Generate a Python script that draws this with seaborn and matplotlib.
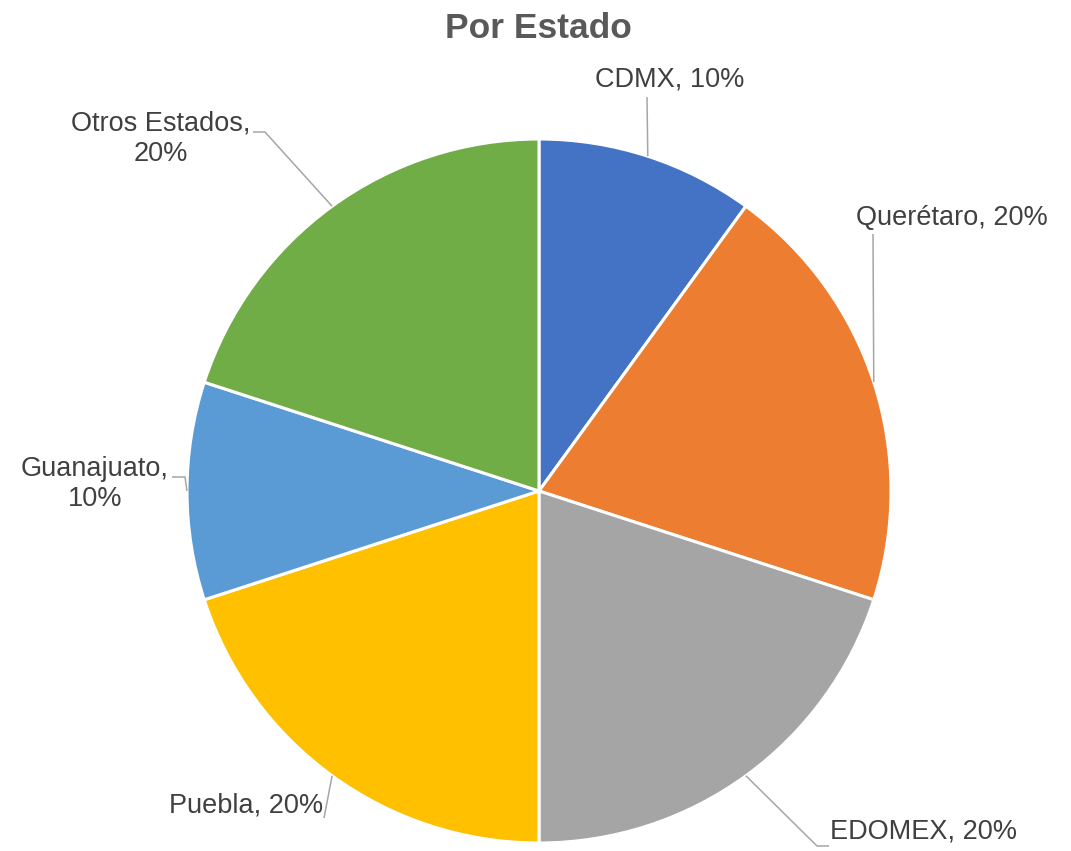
import numpy as np
import matplotlib
matplotlib.use("Agg")
import matplotlib.pyplot as plt
import seaborn as sns

# data
estados = ["CDMX", "Querétaro", "EDOMEX", "Puebla", "Guanajuato", "Otros Estados"]
porcentajes = [10, 20, 20, 20, 10, 20]
colores = ["#4472C4", "#ED7D31", "#A5A5A5", "#FFC000", "#5B9BD5", "#70AD47"]

W, H = 1071, 851
CX, CY, R = 539, 491, 352   # pie centre / radius in pixels (y from top)

# label text centre (px from top), line breaks and leader elbow points
label_pos = {
    "CDMX": (670, 80, False, [(647, 97)]),
    "Querétaro": (952, 218, False, [(873, 234)]),
    "EDOMEX": (923, 832, False, [(817, 846), (829, 846)]),
    "Puebla": (246, 806, False, [(324, 818)]),
    "Guanajuato": (95, 484, True, [(185, 477), (172, 477)]),
    "Otros Estados": (161, 139, True, [(265, 132), (253, 132)]),
}

sns.set_theme(style="white")
plt.rcParams["font.family"] = ["Liberation Sans Narrow", "Liberation Sans", "DejaVu Sans"]

fig = plt.figure(figsize=(W / 100, H / 100), dpi=100)
ax = fig.add_axes([0, 0, 1, 1])

wedges, _ = ax.pie(porcentajes, colors=colores, startangle=90, counterclock=False,
                   center=(CX, H - CY), radius=R,
                   wedgeprops=dict(edgecolor="white", linewidth=2.2))
# pie() resets the limits, so set them afterwards
ax.set_xlim(0, W)
ax.set_ylim(0, H)
ax.set_aspect("equal")
ax.axis("off")

for w, est, pct in zip(wedges, estados, porcentajes):
    mid = np.deg2rad((w.theta1 + w.theta2) / 2)
    anchor = (CX + R * np.cos(mid), H - CY + R * np.sin(mid))
    tx, ty, wrap, elbows = label_pos[est]
    pts = [anchor] + [(x, H - y) for x, y in elbows]
    xs, ys = zip(*pts)
    ax.plot(xs, ys, color="#A6A6A6", lw=1.1, solid_capstyle="butt")
    txt = f"{est},\n{pct}%" if wrap else f"{est}, {pct}%"
    ax.text(tx, H - ty, txt, ha="center", va="center", fontsize=19.5,
            color="#404040", linespacing=1.2)

ax.text(538, H - 28, "Por Estado", ha="center", va="center", fontsize=25.5,
        fontweight="bold", color="#595959")

fig.savefig("out.png", dpi=100)
